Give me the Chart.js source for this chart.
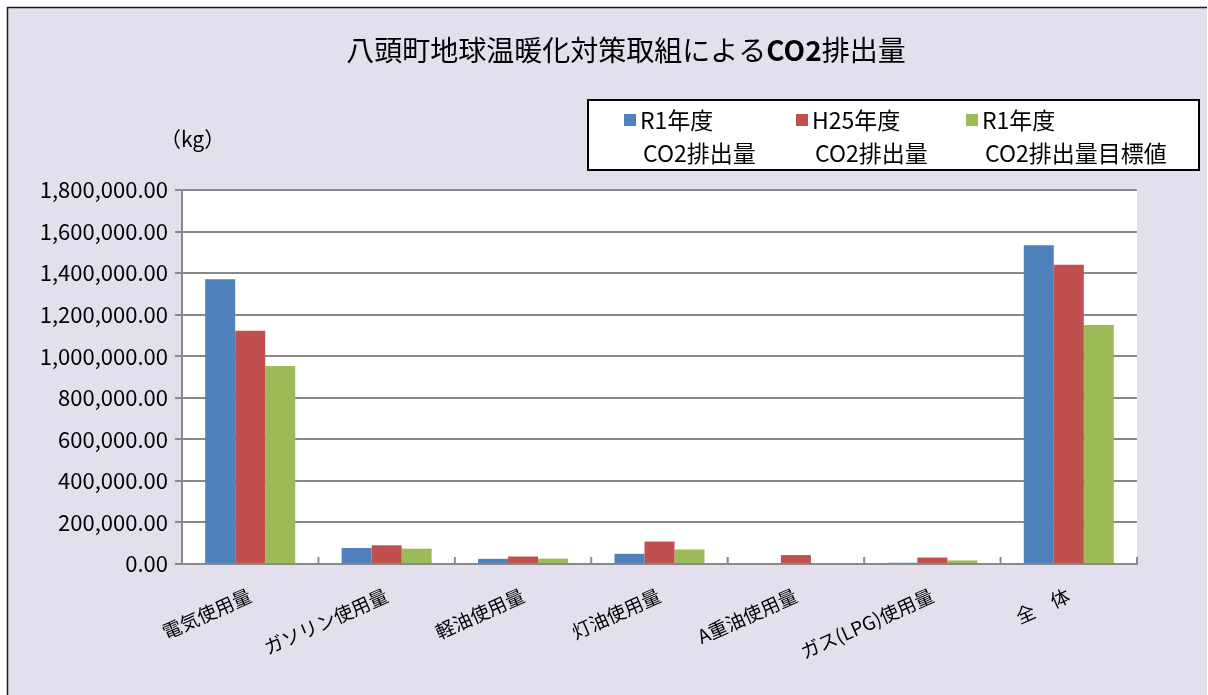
<!DOCTYPE html>
<html>
<head>
<meta charset="utf-8">
<script src="https://cdn.jsdelivr.net/npm/chart.js@4.4.1/dist/chart.umd.min.js"></script>
<style>
  html, body { margin: 0; padding: 0; background: #fff; }
  #wrap { width: 1208px; height: 695px; }
</style>
</head>
<body>
<div id="wrap"><canvas id="chart" width="1208" height="695"></canvas></div>
<script>
// data
const categories = ["電気使用量", "ガソリン使用量", "軽油使用量", "灯油使用量", "A重油使用量", "ガス(LPG)使用量", "全　体"];
const r1Emission = [1370000, 77000, 25000, 49000, 0, 6000, 1534000];
const h25Emission = [1123000, 90000, 36000, 108000, 43000, 31000, 1440000];
const r1Target = [953000, 74000, 26000, 70000, 0, 17000, 1150000];
const seriesLabels = [["R1年度", "CO2排出量"], ["H25年度", "CO2排出量"], ["R1年度", "CO2排出量目標値"]];
const seriesColors = ["#4F81BD", "#C0504D", "#9BBB59"];
const yMax = 1800000;
const yStep = 200000;

const FONT = "'Noto Sans CJK JP', 'Noto Sans', sans-serif";

// frame + lavender background
const backgroundPlugin = {
    id: "bgFrame",
    beforeDraw(chart) {
        const ctx = chart.ctx;
        ctx.save();
        ctx.fillStyle = "#ffffff";
        ctx.fillRect(0, 0, chart.width, chart.height);
        ctx.fillStyle = "#E4DFEC";
        ctx.fillRect(8, 8, chart.width - 9, chart.height - 8);
        ctx.strokeStyle = "#1a1a1a";
        ctx.lineWidth = 1.5;
        ctx.beginPath();
        ctx.moveTo(7.5, chart.height);
        ctx.lineTo(7.5, 7.5);
        ctx.lineTo(chart.width - 1, 7.5);
        ctx.stroke();
        // white plot area
        const a = chart.chartArea;
        ctx.fillStyle = "#ffffff";
        ctx.fillRect(a.left, a.top, a.right - a.left, a.bottom - a.top);
        ctx.restore();
    }
};

// title, unit label, legend box, inward x ticks
const decorPlugin = {
    id: "decor",
    afterDraw(chart) {
        const ctx = chart.ctx;
        ctx.save();

        // title with bold "CO2"
        const parts = [
            { t: "八頭町地球温暖化対策取組による", f: "normal 28px " + FONT },
            { t: "CO2", f: "bold 28px " + FONT },
            { t: "排出量", f: "normal 28px " + FONT }
        ];
        let total = 0;
        parts.forEach(p => { ctx.font = p.f; p.w = ctx.measureText(p.t).width; total += p.w; });
        let x = 626 - total / 2;
        ctx.fillStyle = "#000";
        ctx.textBaseline = "middle";
        ctx.textAlign = "left";
        parts.forEach(p => { ctx.font = p.f; ctx.fillText(p.t, x, 50); x += p.w; });

        // unit
        ctx.font = "21px " + FONT;
        ctx.fillText("（kg）", 160, 139);

        // legend box
        ctx.fillStyle = "#ffffff";
        ctx.fillRect(588, 100, 611, 70);
        ctx.strokeStyle = "#000";
        ctx.lineWidth = 2;
        ctx.strokeRect(588, 100, 611, 70);

        const itemX = [624, 796, 966];
        ctx.font = "23px " + FONT;
        chart.data.datasets.forEach((ds, i) => {
            ctx.fillStyle = ds.backgroundColor;
            ctx.fillRect(itemX[i], 114, 12, 12);
            ctx.fillStyle = "#000";
            ctx.fillText(ds.label[0], itemX[i] + 16, 120);
            ctx.fillText(ds.label[1], itemX[i] + 19, 153);
        });

        // inward tick marks at category boundaries
        const xs = chart.scales.x;
        const n = chart.data.labels.length;
        ctx.strokeStyle = "#898989";
        ctx.lineWidth = 2;
        for (let i = 0; i <= n; i++) {
            const px = xs.left + i * (xs.right - xs.left) / n;
            ctx.beginPath();
            ctx.moveTo(px, xs.top - 7);
            ctx.lineTo(px, xs.top);
            ctx.stroke();
        }
        ctx.restore();
    }
};

const ctx = document.getElementById("chart").getContext("2d");
new Chart(ctx, {
    type: "bar",
    data: {
        labels: categories,
        datasets: [r1Emission, h25Emission, r1Target].map((vals, i) => ({
            label: seriesLabels[i],
            data: vals,
            backgroundColor: seriesColors[i],
            borderWidth: 0,
            categoryPercentage: 0.66,
            barPercentage: 1.0
        }))
    },
    options: {
        responsive: false,
        animation: false,
        devicePixelRatio: 1,
        layout: { padding: { top: 190, right: 71, left: 0, bottom: 0 } },
        plugins: {
            legend: { display: false },
            title: { display: false },
            tooltip: { enabled: false }
        },
        scales: {
            y: {
                min: 0,
                max: yMax,
                afterFit: s => { s.width = 182; },
                ticks: {
                    stepSize: yStep,
                    padding: 7,
                    color: "#000",
                    font: { family: FONT, size: 22 },
                    callback: v => v.toLocaleString("en-US", { minimumFractionDigits: 2, maximumFractionDigits: 2 })
                },
                grid: { color: "#898989", lineWidth: 2, tickLength: 7 },
                border: { color: "#898989", width: 2 }
            },
            x: {
                afterFit: s => { s.height = 131; },
                ticks: {
                    minRotation: 24,
                    maxRotation: 24,
                    padding: 12,
                    color: "#000",
                    font: { family: FONT, size: 19 }
                },
                grid: { display: false },
                border: { color: "#898989", width: 2 }
            }
        }
    },
    plugins: [backgroundPlugin, decorPlugin]
});
</script>
</body>
</html>
